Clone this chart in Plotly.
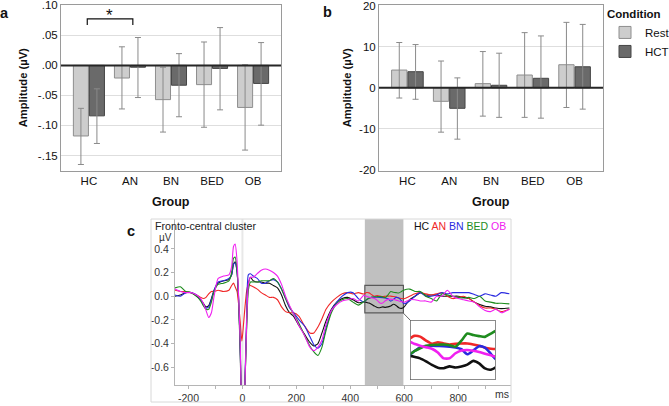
import plotly.graph_objects as go

W, H = 669, 406
FONT = "Liberation Sans, Arial, sans-serif"

# ---------------- data ----------------
groups = ["HC", "AN", "BN", "BED", "OB"]

# panel a (fronto-central amplitude, µV)
rest_a = [-0.1175, -0.021, -0.057, -0.032, -0.070]
hct_a = [-0.084, -0.003, -0.033, -0.005, -0.030]
rest_a_hi = [-0.0715, 0.031, -0.003, 0.039, 0.001]
rest_a_lo = [-0.165, -0.0725, -0.111, -0.103, -0.141]
hct_a_hi = [-0.039, 0.0465, 0.0196, 0.063, 0.038]
hct_a_lo = [-0.130, -0.0535, -0.0855, -0.074, -0.0995]

# panel b
rest_b = [4.3, -3.3, 1.0, 3.1, 5.6]
hct_b = [3.9, -5.0, 0.6, 2.3, 5.1]
rest_b_hi = [11.0, 6.5, 8.8, 13.4, 15.9]
rest_b_lo = [-2.5, -10.8, -6.9, -7.2, -4.8]
hct_b_hi = [10.5, 2.4, 8.4, 12.6, 15.4]
hct_b_lo = [-2.8, -12.5, -7.2, -7.4, -5.2]

# panel c ERP (ms, µV)
t_ms = [-250, -230, -210, -190, -170, -155, -145, -135, -125, -115, -105, -90, -70, -50, -40, -33, -27, -20,
        -14, -8, -2, 4, 10, 16, 22, 30, 40, 55, 70, 85, 100, 115, 130, 145, 160, 175, 190, 210, 230, 250,
        265, 280, 295, 310, 330, 350, 370, 390, 410, 430,
        450, 460, 470, 480, 490, 500, 510, 520, 530, 540, 550, 560, 570, 580, 590, 600,
        620, 640, 660, 680, 700, 720, 740, 760, 780, 800, 820, 840, 860, 880, 900, 920, 940, 960, 990]

erp_hc = [0.00, 0.01, 0.03, 0.03, 0.00, -0.03, -0.06, -0.09, -0.08, -0.02, 0.05, 0.11, 0.13, 0.14, 0.18, 0.27, 0.29, 0.21,
          -0.05, -0.50, -0.95, -1.0, -0.70, -0.20, 0.10, 0.16, 0.13, 0.12, 0.12, 0.11, 0.11, 0.09, 0.07, 0.01, -0.08, -0.14, -0.17, -0.25, -0.32, -0.39,
          -0.42, -0.40, -0.31, -0.21, -0.11, -0.05, -0.02, -0.01, -0.03, -0.055,
          -0.047, -0.052, -0.058, -0.070, -0.084, -0.095, -0.097, -0.090, -0.094, -0.090, -0.083, -0.068, -0.078, -0.098, -0.103, -0.090,
          -0.03, 0.0, 0.03, 0.01, 0.01, 0.01, 0.0, 0.0, 0.0, 0.0, -0.01, -0.02, -0.05, -0.07, -0.085, -0.09, -0.10, -0.105, -0.10]
erp_an = [0.05, 0.04, 0.04, 0.03, 0.01, -0.01, -0.02, -0.01, 0.02, 0.04, 0.04, 0.05, 0.04, 0.05, 0.09, 0.11, 0.08, 0.04,
          -0.07, -0.22, -0.38, -0.24, -0.08, 0.05, 0.10, 0.09, 0.08, 0.06, 0.03, 0.01, -0.01, -0.01, -0.03, -0.09, -0.13, -0.14, -0.14, -0.17, -0.25, -0.31,
          -0.31, -0.26, -0.19, -0.11, -0.05, -0.01, 0.02, 0.03, 0.02, 0.03,
          0.018, 0.031, 0.028, 0.012, 0.0, 0.005, 0.001, -0.003, 0.0, 0.001, 0.001, -0.003, -0.008, -0.016, -0.020, -0.021,
          0.0, 0.02, 0.03, 0.02, 0.01, 0.02, 0.03, 0.0, -0.02, -0.01, 0.0, -0.02, -0.05, -0.08, -0.10, -0.10, -0.11, -0.13, -0.11]
erp_bn = [0.01, 0.00, 0.03, 0.03, 0.01, -0.03, -0.07, -0.10, -0.09, -0.03, 0.05, 0.12, 0.13, 0.15, 0.18, 0.27, 0.28, 0.21,
          -0.02, -0.45, -0.95, -1.0, -0.65, -0.15, 0.18, 0.19, 0.17, 0.15, 0.11, 0.11, 0.13, 0.14, 0.12, 0.06, -0.02, -0.10, -0.14, -0.20, -0.25, -0.34,
          -0.41, -0.44, -0.40, -0.27, -0.12, -0.05, 0.0, 0.03, 0.03, -0.02,
          -0.047, -0.030, -0.015, -0.010, -0.008, -0.009, -0.010, -0.012, -0.015, -0.022, -0.042, -0.027, -0.010, -0.016, -0.040, -0.064,
          -0.04, 0.0, 0.03, 0.0, 0.0, 0.01, 0.03, 0.02, 0.03, 0.03, 0.03, 0.03, 0.015, 0.0, 0.02, 0.01, 0.0, 0.03, 0.02]
erp_bed = [0.07, 0.08, 0.04, 0.03, 0.00, -0.04, -0.08, -0.11, -0.11, -0.05, 0.04, 0.10, 0.11, 0.13, 0.20, 0.32, 0.33, 0.22,
           -0.03, -0.45, -0.95, -1.0, -0.70, -0.25, 0.05, 0.12, 0.12, 0.12, 0.13, 0.13, 0.13, 0.15, 0.12, 0.06, -0.02, -0.09, -0.15, -0.23, -0.33, -0.42,
           -0.47, -0.50, -0.43, -0.29, -0.14, -0.06, -0.03, -0.02, -0.05, -0.075,
           -0.047, -0.030, -0.018, -0.008, -0.005, -0.004, -0.003, -0.006, -0.012, 0.012, 0.040, 0.034, 0.030, 0.027, 0.040, 0.053,
           0.06, 0.04, 0.04, 0.0, -0.02, -0.04, 0.02, 0.01, 0.0, -0.01, -0.015, -0.01, -0.02, 0.0, -0.04, -0.05, -0.06, -0.06, -0.065]
erp_ob = [0.06, 0.04, 0.03, 0.03, 0.01, -0.02, -0.06, -0.12, -0.18, -0.14, 0.00, 0.15, 0.17, 0.18, 0.25, 0.42, 0.44, 0.30,
          0.0, -0.40, -0.95, -1.0, -0.70, -0.20, 0.10, 0.16, 0.16, 0.19, 0.22, 0.23, 0.22, 0.20, 0.17, 0.10, 0.0, -0.08, -0.15, -0.25, -0.33, -0.43,
          -0.46, -0.43, -0.37, -0.24, -0.12, -0.07, -0.04, -0.03, -0.02, -0.04,
          0.008, 0.0, -0.008, -0.014, -0.020, -0.035, -0.058, -0.058, -0.038, -0.027, -0.025, -0.028, -0.033, -0.040, -0.046, -0.051,
          -0.03, -0.03, -0.04, -0.04, -0.05, 0.0, 0.0, 0.05, 0.0, -0.02, -0.03, -0.04, -0.05, -0.09, -0.12, -0.13, -0.11, -0.14, -0.11]

erp_series = [("HC", erp_hc, "#111111"), ("AN", erp_an, "#f02828"), ("BN", erp_bn, "#2a2ae0"),
              ("BED", erp_bed, "#1e8c1e"), ("OB", erp_ob, "#f020f0")]

# ---------------- helpers ----------------
def px_x(p):
    return p / W

def px_y(p):
    return 1 - p / H

def err(vals, hi, lo):
    return [h - v for v, h in zip(vals, hi)], [v - l for v, l in zip(vals, lo)]

fig = go.Figure()

REST_FILL, REST_LINE = "#cdcdcd", "#8e8e8e"
HCT_FILL, HCT_LINE = "#6a6a6a", "#454545"
ERR_COL = "#8a8a8a"

for (vals, hi, lo, name, fill, line, xa, ya, show) in [
    (rest_a, rest_a_hi, rest_a_lo, "Rest", REST_FILL, REST_LINE, "x", "y", True),
    (hct_a, hct_a_hi, hct_a_lo, "HCT", HCT_FILL, HCT_LINE, "x", "y", True),
    (rest_b, rest_b_hi, rest_b_lo, "Rest", REST_FILL, REST_LINE, "x2", "y2", False),
    (hct_b, hct_b_hi, hct_b_lo, "HCT", HCT_FILL, HCT_LINE, "x2", "y2", False),
]:
    up, dn = err(vals, hi, lo)
    fig.add_trace(go.Bar(
        x=groups, y=vals, name=name, legendgroup=name, showlegend=show,
        offsetgroup=name, xaxis=xa, yaxis=ya,
        marker=dict(color=fill, line=dict(color=line, width=1)),
        error_y=dict(type="data", symmetric=False, array=up, arrayminus=dn,
                     color=ERR_COL, thickness=1, width=3),
    ))

# ERP traces, main and inset
for name, vals, col in erp_series:
    fig.add_trace(go.Scatter(x=t_ms, y=vals, mode="lines", name=name, showlegend=False,
                             line=dict(color=col, width=1.1, shape="spline", smoothing=0.6),
                             xaxis="x3", yaxis="y3", hoverinfo="skip"))
for name, vals, col in erp_series:
    fig.add_trace(go.Scatter(x=t_ms, y=vals, mode="lines", name=name, showlegend=False,
                             line=dict(color=col, width=2.6, shape="spline", smoothing=0.6),
                             xaxis="x4", yaxis="y4", hoverinfo="skip"))

# ---------------- layout ----------------
tickfont = dict(family=FONT, size=11.5, color="#111")
bar_top, bar_bot = 5, 170.5

common_bar_x = dict(type="category", range=[-0.68, 4.68], showline=True, mirror=True, linecolor="#9a9a9a",
                    linewidth=1, ticks="", showgrid=False, tickfont=tickfont, fixedrange=True,
                    automargin=False)

fig.update_layout(
    width=W, height=H, margin=dict(l=0, r=0, t=0, b=0, autoexpand=False),
    paper_bgcolor="white", plot_bgcolor="white",
    font=dict(family=FONT, color="#111"),
    barmode="group", bargap=0.22, bargroupgap=0.06,
    xaxis=dict(domain=[px_x(61), px_x(281)], anchor="y", **common_bar_x),
    yaxis=dict(domain=[px_y(bar_bot), px_y(bar_top)], anchor="x", range=[-0.175, 0.1006],
               tickvals=[-0.15, -0.10, -0.05, 0.0, 0.05, 0.10],
               ticktext=["-.15", "-.10", "-.05", ".00", ".05", ".10"],
               ticklabeloverflow="allow", automargin=False,
               showline=True, mirror=True, linecolor="#9a9a9a", ticks="",
               showgrid=True, gridcolor="#dedede", zeroline=False, tickfont=tickfont,
               title=dict(text="<b>Amplitude (µV)</b>", font=dict(family=FONT, size=11.2), standoff=7)),
    xaxis2=dict(domain=[px_x(379), px_x(603)], anchor="y2", **common_bar_x),
    yaxis2=dict(domain=[px_y(bar_bot), px_y(bar_top)], anchor="x2", range=[-20.12, 20.12],
                tickvals=[-20, -10, 0, 10, 20], ticktext=["-20", "-10", "0", "10", "20"],
                ticklabeloverflow="allow", automargin=False,
                showline=True, mirror=True, linecolor="#9a9a9a", ticks="",
                showgrid=True, gridcolor="#dedede", zeroline=False, tickfont=tickfont,
                title=dict(text="<b>Amplitude (µV)</b>", font=dict(family=FONT, size=11.2), standoff=5)),
    xaxis3=dict(domain=[px_x(175), px_x(511)], anchor="y3", range=[-250, 996],
                tickvals=list(range(-200, 1000, 100)),
                ticktext=["-200", "", "0", "", "200", "", "400", "", "600", "", "800", ""],
                showline=True, linecolor="#b5b5b5", ticks="outside", ticklen=3, tickcolor="#b5b5b5",
                showgrid=False, zeroline=False, automargin=False,
                tickfont=dict(family=FONT, size=10.5, color="#333")),
    yaxis3=dict(domain=[px_y(385), px_y(219)], anchor="x3", range=[-0.75, 0.652],
                tickvals=[-0.6, -0.4, -0.2, 0.0, 0.2, 0.4],
                ticktext=["-0.6", "-0.4", "-0.2", "0.0", "0.2", "0.4"],
                showline=True, linecolor="#b5b5b5", ticks="outside", ticklen=3, tickcolor="#b5b5b5",
                showgrid=False, zeroline=False, automargin=False,
                tickfont=dict(family=FONT, size=10.5, color="#333")),
    xaxis4=dict(domain=[px_x(410.7), px_x(495)], anchor="y4", range=[454, 597],
                visible=False, showgrid=False, zeroline=False, automargin=False),
    yaxis4=dict(domain=[px_y(379.3), px_y(320.7)], anchor="x4", range=[-0.141, 0.091],
                visible=False, showgrid=False, zeroline=False, automargin=False),
    legend=dict(x=px_x(605), y=px_y(3), xanchor="left", yanchor="top",
                title=dict(text="<b>Condition</b>", font=dict(family=FONT, size=11.5)),
                font=dict(family=FONT, size=11.5), bgcolor="rgba(0,0,0,0)",
                itemwidth=30, tracegroupgap=0),
)

shapes = []
# thick zero lines in bar panels
for xa, ya in [("x", "y"), ("x2", "y2")]:
    shapes.append(dict(type="line", xref=f"{xa} domain", yref=ya, x0=0, x1=1, y0=0, y1=0,
                       line=dict(color="#262626", width=2), layer="above"))
# significance bracket (HC vs AN, panel a)
shapes.append(dict(type="path", xref="x", yref="y",
                   path="M -0.04,0.0675 L -0.04,0.0776 L 1.07,0.0776 L 1.07,0.0675",
                   line=dict(color="#111", width=1.2)))
# panel c frame
shapes.append(dict(type="rect", xref="paper", yref="paper", x0=px_x(151), x1=px_x(511),
                   y0=px_y(402), y1=px_y(219), line=dict(color="#d8d8d8", width=1)))
# t=0 marker line
shapes.append(dict(type="line", xref="x3", yref="y3 domain", x0=0, x1=0, y0=0, y1=1,
                   line=dict(color="#e8e8e8", width=2), layer="below"))
# analysis window
shapes.append(dict(type="rect", xref="x3", yref="y3 domain", x0=454, x1=597, y0=0, y1=1,
                   fillcolor="#c0c0c0", line=dict(width=0), layer="below"))
shapes.append(dict(type="rect", xref="x3", yref="y3", x0=454, x1=597, y0=-0.141, y1=0.091,
                   fillcolor="#bcbcbc", line=dict(color="#5a5a5a", width=1.2), layer="below"))
# inset background + border
shapes.append(dict(type="rect", xref="x4 domain", yref="y4 domain", x0=0, x1=1, y0=0, y1=1,
                   fillcolor="#bdbdbd", line=dict(color="#5a5a5a", width=1.4), layer="below"))
# connector
shapes.append(dict(type="line", xref="paper", yref="paper", x0=px_x(403.1), y0=px_y(312.9),
                   x1=px_x(410.7), y1=px_y(320.7), line=dict(color="#6a6a6a", width=1)))
fig.update_layout(shapes=shapes)

ann = []
def label(text, x, y, size, bold=False, xanchor="center", yanchor="middle", color="#111"):
    ann.append(dict(text=f"<b>{text}</b>" if bold else text, x=px_x(x), y=px_y(y),
                    xref="paper", yref="paper", showarrow=False, xanchor=xanchor, yanchor=yanchor,
                    font=dict(family=FONT, size=size, color=color)))

label("a", 4, 13, 14.5, bold=True)
label("b", 327, 12, 14.5, bold=True)
label("c", 131, 231, 14.5, bold=True)
label("Group", 171, 202, 12.5, bold=True)
label("Group", 491, 202, 12.5, bold=True)
ann.append(dict(text="*", x=0.5, y=0.0835, xref="x", yref="y", showarrow=False,
                font=dict(family=FONT, size=17, color="#111"), yanchor="middle"))
label("Fronto-central cluster", 153, 226, 10.7, xanchor="left", color="#222")
label("µV", 165, 237.5, 10, color="#333")
label("ms", 502, 394, 10.5, color="#333")
label('<span style="color:#111">HC</span> <span style="color:#f02828">AN</span> '
      '<span style="color:#2a2ae0">BN</span> <span style="color:#1e8c1e">BED</span> '
      '<span style="color:#f020f0">OB</span>', 508, 226, 10.5, xanchor="right")
fig.update_layout(annotations=ann)

fig.write_html("out.html")
